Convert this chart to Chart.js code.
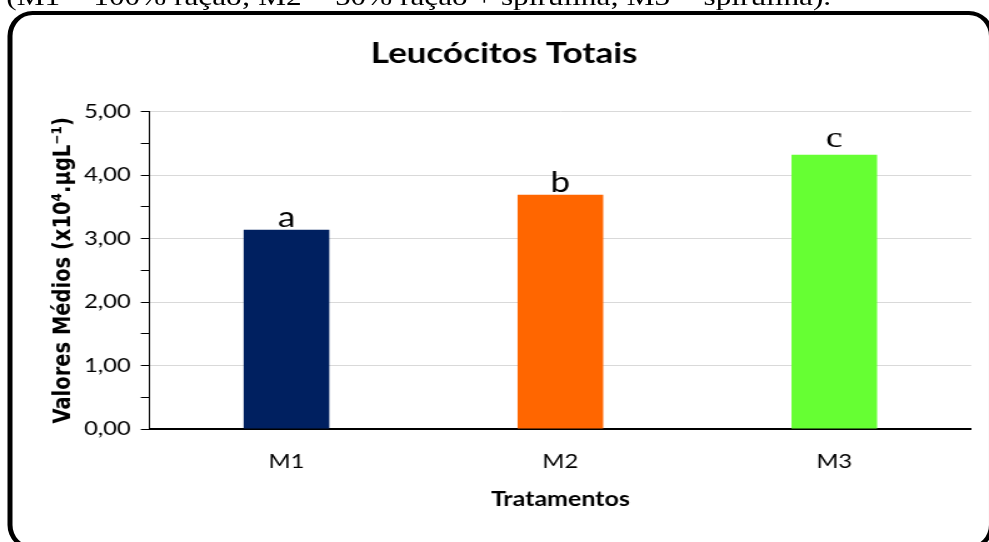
<!DOCTYPE html>
<html>
<head>
    <meta charset="UTF-8">
    <title>Leucócitos Totais</title>
    <script src="https://cdn.jsdelivr.net/npm/chart.js@4"></script>
    <style>
        html, body { margin: 0; padding: 0; background: #fff; overflow: hidden; }
        /* a figura original está esticada na horizontal, por isso o scaleX */
        #pagina { position: absolute; left: 0; top: 0; width: 791px; height: 542px;
                  transform: scaleX(1.2503); transform-origin: 0 0; }
        #legenda { position: absolute; left: 5px; top: -16px; white-space: nowrap;
                   font-family: 'Liberation Serif', serif; font-size: 25px; line-height: 25px; color: #000; }
        #moldura { position: absolute; left: 6px; top: 11px; width: 781px; height: 531px;
                   border: 4px solid #000; border-radius: 20px / 25px; }
        #grafico { position: absolute; left: 0; top: 0; }
    </style>
</head>
<body>
    <div id="pagina">
        <div id="legenda">(M1 = 100% ração; M2 = 50% ração + spirulina; M3 = spirulina).</div>
        <div id="moldura"></div>
        <canvas id="grafico" width="791" height="542"></canvas>
    </div>
    <script>
        // dados
        const tratamentos = ['M1', 'M2', 'M3'];
        const leucocitos = [3.14, 3.69, 4.32];
        const letras = ['a', 'b', 'c'];
        const coresBarras = ['#002060', '#FF6600', '#66FF33'];

        // letras de significância acima das barras
        const letrasPlugin = {
            id: 'letras',
            afterDatasetsDraw(chart) {
                const ctx = chart.ctx;
                const meta = chart.getDatasetMeta(0);
                ctx.save();
                ctx.fillStyle = '#000';
                ctx.textAlign = 'center';
                ctx.textBaseline = 'alphabetic';
                meta.data.forEach((bar, i) => {
                    // a letra "c" no original está em fonte serifada
                    ctx.font = i === 2 ? '30px "Liberation Serif"' : '28px Lato';
                    const folga = i === 2 ? 8 : 3;
                    ctx.fillText(letras[i], bar.x, bar.y - folga);
                });
                ctx.restore();
            }
        };

        new Chart(document.getElementById('grafico'), {
            type: 'bar',
            data: {
                labels: tratamentos,
                datasets: [{
                    data: leucocitos,
                    backgroundColor: coresBarras,
                    barPercentage: 0.3126,
                    categoryPercentage: 1
                }]
            },
            options: {
                responsive: false,
                animation: false,
                layout: { padding: { left: 29.6, right: 14.2, top: 0, bottom: 10 } },
                plugins: {
                    legend: { display: false },
                    tooltip: { enabled: false },
                    title: {
                        display: true,
                        text: 'Leucócitos Totais',
                        color: '#000',
                        font: { family: 'Lato', size: 28, weight: 'bold' },
                        padding: { top: 37, bottom: 41 }
                    }
                },
                scales: {
                    x: {
                        grid: { display: false, drawTicks: false, tickLength: 0 },
                        border: { color: '#000', width: 2 },
                        ticks: { color: '#000', font: { family: 'Lato', size: 19 }, padding: 21 },
                        title: {
                            display: true,
                            text: 'Tratamentos',
                            color: '#000',
                            font: { family: 'Lato', size: 20, weight: 'bold' },
                            padding: { top: 0, bottom: 20 }
                        },
                        afterFit(scale) { scale.height = 103; }
                    },
                    y: {
                        min: 0,
                        max: 5,
                        ticks: {
                            stepSize: 0.5,
                            autoSkip: false,
                            color: '#000',
                            padding: 8,
                            font: { family: 'Lato', size: 19 },
                            callback: v => Number.isInteger(v) ? v.toFixed(2).replace('.', ',') : ''
                        },
                        grid: {
                            color: c => (Number.isInteger(c.tick.value) && c.tick.value > 0) ? '#d9d9d9' : 'rgba(0,0,0,0)',
                            tickColor: '#000',
                            tickLength: 7
                        },
                        border: { color: '#000', width: 1 },
                        title: {
                            display: true,
                            text: 'Valores Médios (x10⁴.µgL⁻¹)',
                            color: '#000',
                            font: { family: 'DejaVu Sans', size: 19.5, weight: 'bold' },
                            padding: { top: 10, bottom: 0 }
                        },
                        afterFit(scale) { scale.width = 90; }
                    }
                }
            },
            plugins: [letrasPlugin]
        });
    </script>
</body>
</html>
